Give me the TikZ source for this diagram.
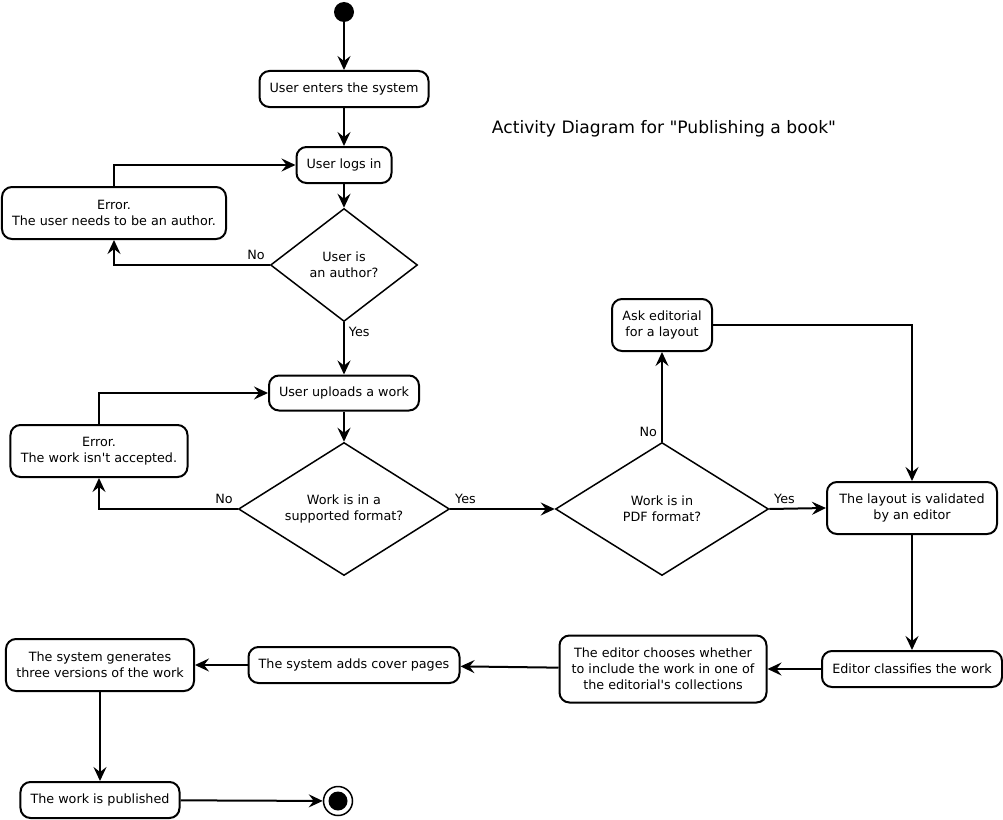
\documentclass[tikz,border=0pt]{standalone}
\usepackage{fontspec}
\setmainfont{DejaVu Sans}[Ligatures=TeXOff]
\usetikzlibrary{shapes.geometric,arrows.meta}

\begin{document}
\begin{tikzpicture}[x=1bp, y=-1bp,
    every node/.style={font=\fontsize{12.8}{16}\selectfont, align=center},
    activity/.style={draw, line width=2bp, rounded corners=10bp, inner sep=2pt},
    decision/.style={draw, diamond, line width=1.5bp, inner sep=0pt, aspect=1.5},
    flow/.style={line width=2bp, -{Stealth[length=14bp, width=13bp, inset=5bp]}},
    guard/.style={inner sep=4pt}]
  \useasboundingbox (0,0) rectangle (1003,820);

  % Title
  \node[font=\fontsize{17.2}{20}\selectfont] (title) at (664,129) {Activity Diagram for "Publishing a book"};

  % Initial and final states
  \node[circle, fill, inner sep=0pt, minimum size=20bp] (start) at (344,12) {};
  \node[circle, draw, line width=1.5bp, inner sep=0pt, minimum size=29bp,
        path picture={\fill (path picture bounding box.center) circle (9.5bp);}] (stop) at (338,801) {};

  % Activities
  \node[activity, minimum width=169bp, minimum height=36bp] (enter) at (344,89) {User enters the system};
  \node[activity, minimum width=95bp, minimum height=36bp] (login) at (344,165) {User logs in};
  \node[activity, minimum width=224bp, minimum height=52bp] (errauthor) at (114,213) {Error.\\The user needs to be an author.};
  \node[activity, minimum width=150bp, minimum height=35bp] (upload) at (344,393) {User uploads a work};
  \node[activity, minimum width=177bp, minimum height=52bp] (errformat) at (99,451) {Error.\\The work isn't accepted.};
  \node[activity, minimum width=100bp, minimum height=52bp] (asklayout) at (662,325) {Ask editorial\\for a layout};
  \node[activity, minimum width=170bp, minimum height=52bp] (validate) at (912,508) {The layout is validated\\by an editor};
  \node[activity, minimum width=180bp, minimum height=36bp] (classify) at (912,669) {Editor classifies the work};
  \node[activity, minimum width=207bp, minimum height=67bp] (choose) at (663,669) {The editor chooses whether\\to include the work in one of\\the editorial's collections};
  \node[activity, minimum width=211bp, minimum height=36bp] (cover) at (354,665) {The system adds cover pages};
  \node[activity, minimum width=188bp, minimum height=52bp] (versions) at (100,665) {The system generates\\three versions of the work};
  \node[activity, minimum width=159bp, minimum height=36bp] (publish) at (100,800) {The work is published};

  % Decisions
  \node[decision, minimum width=147bp, minimum height=113bp] (isauthor) at (344,265) {User is\\an author?};
  \node[decision, minimum width=211bp, minimum height=133bp] (format) at (344,509) {Work is in a\\supported format?};
  \node[decision, minimum width=213bp, minimum height=133bp] (ispdf) at (662,509) {Work is in\\PDF format?};

  % Straight flows
  \foreach \a/\b in {start/enter, enter/login, login/isauthor, upload/format,
                     validate/classify, classify/choose, choose/cover,
                     cover/versions, versions/publish, publish/stop} {
    \draw[flow] (\a) -- (\b);
  }

  % Guarded and looping flows
  \draw[flow] (isauthor.west) -| node[pos=0, above left, guard] {No} (errauthor.south);
  \draw[flow] (errauthor.north) |- (login.west);
  \draw[flow] (isauthor.south) -- node[pos=0, below right, guard] {Yes} (upload.north);
  \draw[flow] (format.west) -| node[pos=0, above left, guard] {No} (errformat.south);
  \draw[flow] (errformat.north) |- (upload.west);
  \draw[flow] (format.east) -- node[pos=0, above right, guard] {Yes} (ispdf.west);
  \draw[flow] (ispdf.north) -- node[pos=0, above left, guard] {No} (asklayout.south);
  \draw[flow] (asklayout.east) -| (validate.north);
  \draw[flow] (ispdf.east) -- node[pos=0, above right, guard] {Yes} (validate.west);
\end{tikzpicture}
\end{document}
